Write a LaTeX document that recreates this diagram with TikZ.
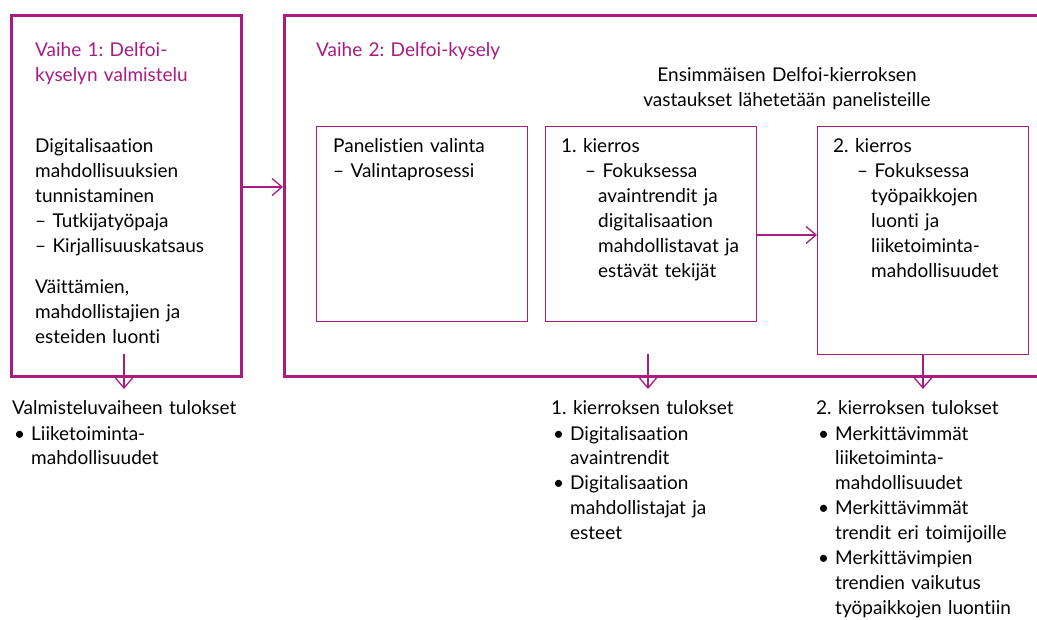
\documentclass[tikz,border=0pt]{standalone}
\usepackage{fontspec}
\setmainfont{Lato}[Ligatures=NoCommon]
\usetikzlibrary{arrows.meta}
\definecolor{mag}{RGB}{168,28,128}
\newcommand{\bul}[1]{\hspace*{#1}\makebox[17pt][l]{•}}
\newcommand{\bulind}[1]{\hspace*{#1}\hspace*{17pt}}
\frenchspacing
\begin{document}
\begin{tikzpicture}[x=1pt,y=-1pt,
  txt/.style={anchor=base west, inner sep=0pt, text width=#1, align=left,
    font=\fontsize{19}{25}\selectfont},
  txt/.default=300pt,
  phase/.style={draw=mag, line width=3pt, inner sep=0pt, anchor=north west},
  inner/.style={draw=mag, line width=1.2pt, inner sep=0pt, anchor=north west},
  arr/.style={draw=mag, line width=1.3pt, -{Straight Barb[length=10pt,width=17pt]}}]
\clip (0,0) rectangle (1037,620);
\fill[white] (0,0) rectangle (1037,620);
% phase boxes
\node[phase, minimum width=230pt, minimum height=361pt] (box1) at (10,14) {};
\node[phase, minimum width=800pt, minimum height=361pt] (box2) at (283,14) {};
% inner boxes
\node[inner, minimum width=211pt, minimum height=195pt] (boxA) at (316,126) {};
\node[inner, minimum width=211pt, minimum height=195pt] (boxB) at (545,126) {};
\node[inner, minimum width=211pt, minimum height=228pt] (boxC) at (817,126) {};
% texts box 1
\node[txt, text=mag] (t1) at (35,57) {Vaihe 1: Delfoi-\\kyselyn valmistelu};
\node[txt] (b1a) at (35,153) {Digitalisaation\\mahdollisuuksien\\tunnistaminen\\– Tutkijatyöpaja\\– Kirjallisuuskatsaus};
\node[txt] (b1b) at (35,294) {Väittämien,\\mahdollistajien ja\\esteiden luonti};
% texts box 2
\node[txt, text=mag] (t2) at (316,57) {Vaihe 2: Delfoi-kysely};
\node[txt=360pt, anchor=base, align=center] (note) at (787,82) {Ensimmäisen Delfoi-kierroksen\\vastaukset lähetetään panelisteille};
\node[txt] (tA) at (333,153) {Panelistien valinta\\– Valintaprosessi};
\node[txt] (tB) at (561,153) {1. kierros\\\hspace*{24pt}– Fokuksessa\\\hspace*{37pt}avaintrendit ja\\\hspace*{37pt}digitalisaation\\\hspace*{37pt}mahdollistavat ja\\\hspace*{37pt}estävät tekijät};
\node[txt] (tC) at (833,153) {2. kierros\\\hspace*{24pt}– Fokuksessa\\\hspace*{38pt}työpaikkojen\\\hspace*{38pt}luonti ja\\\hspace*{38pt}liiketoiminta-\\\hspace*{38pt}mahdollisuudet};
% results
\node[txt] (r0) at (12,415) {Valmisteluvaiheen tulokset\\\bul{2pt}Liiketoiminta-\\\bulind{2pt}mahdollisuudet};
\node[txt] (r1) at (551,415) {1. kierroksen tulokset\\\bul{2pt}Digitalisaation\\\bulind{2pt}avaintrendit\\\bul{2pt}Digitalisaation\\\bulind{2pt}mahdollistajat ja\\\bulind{2pt}esteet};
\node[txt] (r2) at (816,415) {2. kierroksen tulokset\\\bul{2pt}Merkittävimmät\\\bulind{2pt}liiketoiminta-\\\bulind{2pt}mahdollisuudet\\\bul{2pt}Merkittävimmät\\\bulind{2pt}trendit eri toimijoille\\\bul{2pt}Merkittävimpien\\\bulind{2pt}trendien vaikutus\\\bulind{2pt}työpaikkojen luontiin};
% connectors
\coordinate (row12) at (0,187);
\coordinate (rowBC) at (0,235);
\draw[arr] (box1.east |- row12) -- (box2.west |- row12);
\draw[arr] (boxB.east |- rowBC) -- (boxC.west |- rowBC);
\coordinate (d0s) at (124,354); \coordinate (d0e) at (124,389);
\coordinate (d1s) at (648,354); \coordinate (d1e) at (648,389);
\coordinate (d2s) at (923,354); \coordinate (d2e) at (923,389);
\draw[arr] (d0s) -- (d0e);
\draw[arr] (d1s) -- (d1e);
\draw[arr] (boxC.south -| d2s) -- (d2e);
\end{tikzpicture}
\end{document}
